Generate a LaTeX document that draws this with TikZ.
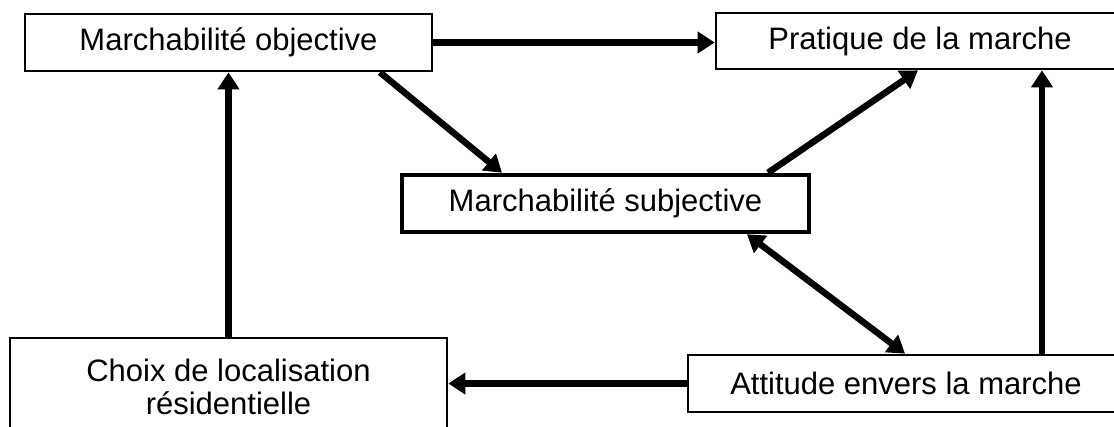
\documentclass[tikz,border=0pt]{standalone}
\usepackage{fontspec}
\setmainfont{Liberation Sans}
\usetikzlibrary{arrows.meta,calc}
\begin{document}
\begin{tikzpicture}[x=1pt,y=-1pt,
  box/.style={draw=black, line width=2.7pt, fill=white, inner sep=0pt,
    font=\fontsize{31}{33}\selectfont, align=center},
  thickbox/.style={box, line width=4.5pt},
  link/.style={line width=6.5pt, -{Triangle[length=17pt,width=21pt]}},
  duallink/.style={line width=6.5pt, {Triangle[length=17pt,width=21pt]}-{Triangle[length=17pt,width=21pt]}}]
\useasboundingbox (0,0) rectangle (1114,426);
\clip (0,0) rectangle (1114,426);
\fill[white] (0,0) rectangle (1114,426);

% boxes
\node[box, minimum width=407pt, minimum height=57pt] (mo) at (228.5,42.5) {Marchabilité objective};
\node[box, minimum width=408pt, minimum height=56pt] (pr) at (920,41) {Pratique de la marche};
\node[thickbox, minimum width=407pt, minimum height=57pt] (ms) at (605.5,203.5) {Marchabilité subjective};
\node[box, minimum width=437pt, minimum height=98pt] (ch) at (228.5,387) {Choix de localisation\\résidentielle};
\node[box, minimum width=436pt, minimum height=57pt] (at) at (906,383.5) {Attitude envers la marche};

% relations
\draw[link] (mo.east) -- (mo.east -| pr.west);
\draw[link] (ch.north) -- (ch.north |- mo.south);
\draw[link] (at.west) -- (at.west -| ch.east);
\draw[link] ([xshift=136pt]at.north) -- ([xshift=136pt]at.north |- pr.south);
\draw[link] ([xshift=151.5pt]mo.south) -- ([xshift=-103.5pt]ms.north);
\draw[link] ([xshift=162.5pt]ms.north) -- ([xshift=-2pt]pr.south);
\draw[duallink] ([xshift=141.5pt]ms.south) -- ([xshift=-1pt]at.north);
\end{tikzpicture}
\end{document}
